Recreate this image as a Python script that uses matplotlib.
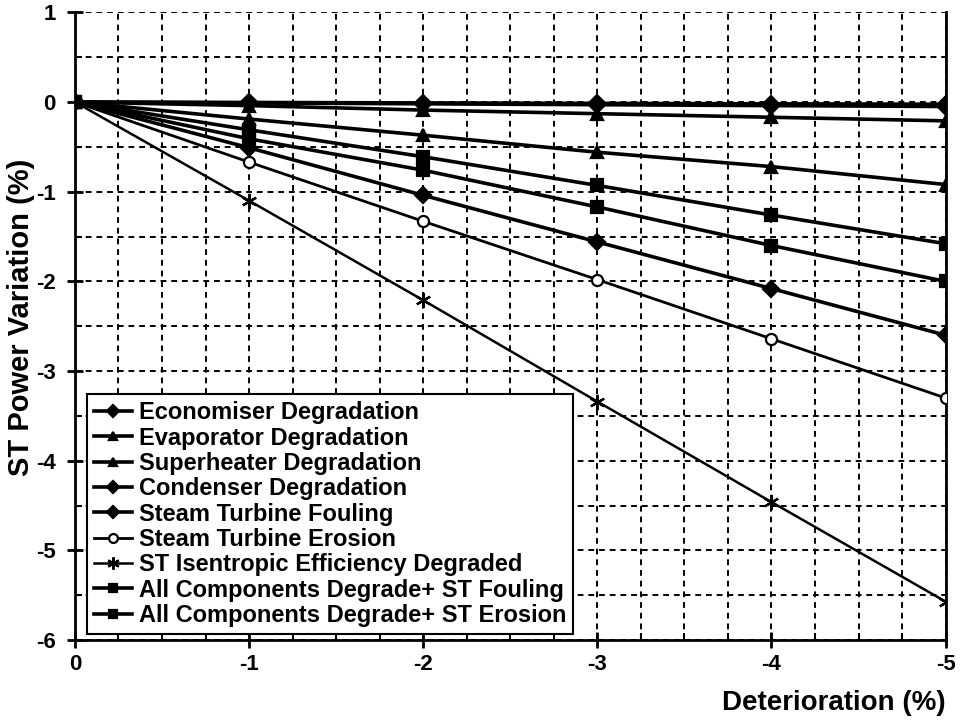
import matplotlib
matplotlib.use("Agg")
import matplotlib.pyplot as plt
from matplotlib.ticker import MultipleLocator

plt.rcParams['font.family'] = ['Liberation Sans', 'DejaVu Sans']
plt.rcParams['font.weight'] = 'bold'
plt.rcParams['axes.unicode_minus'] = False

deterioration = [0, -1, -2, -3, -4, -5]

economiser = [0, -0.005, -0.01, -0.015, -0.02, -0.025]
evaporator = [0, -0.04, -0.09, -0.13, -0.17, -0.21]
superheater = [0, -0.19, -0.37, -0.56, -0.72, -0.92]
condenser = [0, -0.01, -0.02, -0.03, -0.04, -0.05]
st_fouling = [0, -0.51, -1.04, -1.56, -2.08, -2.6]
st_erosion = [0, -0.67, -1.33, -1.98, -2.64, -3.3]
st_isentropic = [0, -1.1, -2.21, -3.34, -4.46, -5.57]
all_fouling = [0, -0.31, -0.61, -0.93, -1.26, -1.58]
all_erosion = [0, -0.41, -0.76, -1.17, -1.6, -2.0]

series = [
    ("Economiser Degradation", economiser, "D", "black", 2.6),
    ("Evaporator Degradation", evaporator, "^", "black", 2.6),
    ("Superheater Degradation", superheater, "^", "black", 2.6),
    ("Condenser Degradation", condenser, "D", "black", 2.6),
    ("Steam Turbine Fouling", st_fouling, "D", "black", 2.6),
    ("Steam Turbine Erosion", st_erosion, "o", "white", 2.0),
    ("ST Isentropic Efficiency Degraded", st_isentropic, (6, 2, 0), "black", 1.8),
    ("All Components Degrade+ ST Fouling", all_fouling, "s", "black", 2.6),
    ("All Components Degrade+ ST Erosion", all_erosion, "s", "black", 2.6),
]

fig = plt.figure(figsize=(9.61, 7.25), dpi=100)
ax = fig.add_axes([0.078, 0.117, 0.906, 0.866])

for label, vals, marker, mfc, lw in series:
    ms = 8 if marker != (6, 2, 0) else 11
    ax.plot(deterioration, vals, color="black", lw=lw, marker=marker,
            markersize=ms, markerfacecolor=mfc, markeredgecolor="black",
            markeredgewidth=1.6, label=label, zorder=3)

ax.set_xlim(0, -5)
ax.set_ylim(-6, 1)
ax.xaxis.set_major_locator(MultipleLocator(1))
ax.xaxis.set_minor_locator(MultipleLocator(0.25))
ax.yaxis.set_major_locator(MultipleLocator(1))
ax.yaxis.set_minor_locator(MultipleLocator(0.5))

ax.grid(which="both", color="black", linestyle=(0, (3, 2.5)), linewidth=1.4, zorder=1)
ax.set_axisbelow(True)

for side in ["left", "bottom", "right"]:
    ax.spines[side].set_linewidth(2.0)
ax.spines["top"].set_visible(False)

ax.tick_params(axis="both", which="major", direction="inout", length=12, width=2,
               labelsize=16, colors="black")
ax.tick_params(axis="x", which="minor", direction="in", length=5, width=1.5)
ax.tick_params(axis="y", which="minor", direction="in", length=5, width=1.5)
ax.tick_params(axis="x", which="major", pad=4)
ax.tick_params(axis="y", which="major", pad=8)

for lbl in ax.get_xticklabels() + ax.get_yticklabels():
    lbl.set_fontweight("bold")

ax.set_ylabel("ST Power Variation (%)", fontsize=21, fontweight="bold")
ax.yaxis.set_label_coords(-0.046, 0.515)
ax.set_xlabel("Deterioration (%)", fontsize=20, fontweight="bold", loc="right", labelpad=11)

leg = ax.legend(loc="lower left", bbox_to_anchor=(0.008, 0.002), fontsize=17,
                frameon=True, fancybox=False, edgecolor="black", framealpha=1,
                handlelength=1.6, handletextpad=0.3, labelspacing=0.1,
                borderpad=0.3, borderaxespad=0.2, markerscale=0.8)
leg.get_frame().set_linewidth(1.5)
leg.set_zorder(5)

fig.savefig("out.png", dpi=100)
